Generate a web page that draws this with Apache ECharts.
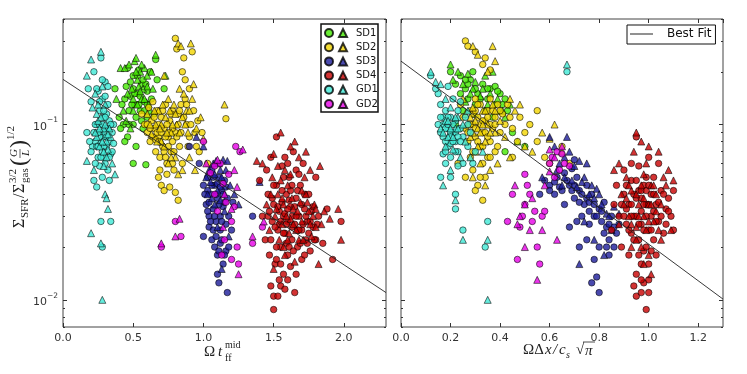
<!DOCTYPE html>
<html>
<head>
<meta charset="utf-8">
<script src="https://cdn.jsdelivr.net/npm/echarts@6/dist/echarts.min.js"></script>
<style>
  html, body { margin: 0; padding: 0; background: #fff; }
  #main { width: 747px; height: 374px; }
</style>
</head>
<body>
<div id="main"></div>
<script>
// ---- data: [x, y] ----
// left panel: x = Omega t_ff^mid
const leftSD1Circ = [[0.37,0.16],[0.4,0.11],[0.42,0.13],[0.43,0.1],[0.45,0.165],[0.46,0.085],[0.47,0.12],[0.48,0.145],[0.5,0.1],[0.5,0.19],[0.51,0.13],[0.52,0.075],[0.53,0.15],[0.55,0.12],[0.56,0.17],[0.57,0.095],[0.58,0.135],[0.6,0.11],[0.62,0.2],[0.63,0.14],[0.65,0.115],[0.66,0.235],[0.67,0.18],[0.72,0.16],[0.5,0.06],[0.59,0.059],[0.44,0.08],[0.41,0.095],[0.54,0.205],[0.46,0.21],[0.6,0.155],[0.48,0.175],
    [0.44,0.14],[0.47,0.1],[0.49,0.13],[0.51,0.15],[0.52,0.11],[0.54,0.13],[0.55,0.145],[0.56,0.105],[0.58,0.12],[0.59,0.17],[0.6,0.13],[0.53,0.19],[0.5,0.16],[0.57,0.18]];
const leftSD1Tri = [[0.38,0.14],[0.41,0.21],[0.43,0.12],[0.44,0.21],[0.47,0.22],[0.49,0.16],[0.51,0.23],[0.52,0.24],[0.53,0.18],[0.55,0.2],[0.56,0.14],[0.58,0.21],[0.6,0.19],[0.61,0.13],[0.63,0.2],[0.64,0.16],[0.66,0.25],[0.73,0.19],[0.45,0.105],[0.5,0.12],[0.57,0.16],[0.62,0.12],[0.54,0.165],[0.48,0.095],
    [0.46,0.15],[0.5,0.14],[0.53,0.13],[0.55,0.155],[0.58,0.14],[0.6,0.165],[0.52,0.2],[0.56,0.22]];
const leftSD2Circ = [[0.56,0.115],[0.58,0.1],[0.6,0.09],[0.61,0.125],[0.62,0.08],[0.63,0.105],[0.65,0.095],[0.66,0.07],[0.67,0.12],[0.68,0.085],[0.69,0.065],[0.7,0.11],[0.71,0.075],[0.72,0.095],[0.73,0.13],[0.74,0.06],[0.75,0.085],[0.76,0.105],[0.77,0.07],[0.78,0.12],[0.79,0.055],[0.8,0.09],[0.8,0.31],[0.81,0.27],[0.82,0.115],[0.83,0.075],[0.84,0.13],[0.85,0.2],[0.87,0.18],[0.88,0.1],[0.9,0.16],[0.9,0.085],[0.92,0.26],[0.93,0.12],[0.96,0.105],[0.97,0.07],[0.99,0.09],[0.7,0.045],[0.72,0.042],[0.76,0.044],[0.8,0.041],[0.68,0.05],[0.74,0.052],[0.85,0.06],[0.86,0.24],[0.87,0.14],[0.95,0.075],[1.03,0.06],[1.16,0.108],[0.64,0.135],[0.78,0.08],[0.82,0.037],
    [0.6,0.1],[0.62,0.095],[0.64,0.085],[0.65,0.11],[0.67,0.09],[0.68,0.1],[0.69,0.08],[0.7,0.09],[0.71,0.12],[0.72,0.07],[0.73,0.085],[0.74,0.1],[0.75,0.075],[0.76,0.09],[0.77,0.115],[0.78,0.095],[0.79,0.07],[0.81,0.085],[0.82,0.1],[0.83,0.12],[0.84,0.09],[0.86,0.11],[0.88,0.13],[0.89,0.075],[0.91,0.1],[0.94,0.09],[0.69,0.055],[0.73,0.065],[0.78,0.06],[0.66,0.082]];
const leftSD2Tri = [[0.6,0.115],[0.63,0.088],[0.66,0.1],[0.68,0.12],[0.7,0.08],[0.72,0.19],[0.73,0.11],[0.75,0.14],[0.77,0.09],[0.79,0.13],[0.8,0.065],[0.81,0.1],[0.82,0.29],[0.83,0.16],[0.84,0.28],[0.85,0.11],[0.86,0.15],[0.88,0.12],[0.89,0.09],[0.91,0.29],[0.92,0.14],[0.93,0.17],[0.95,0.095],[0.98,0.11],[1.0,0.083],[0.85,0.055],[0.9,0.065],[0.94,0.055],[1.15,0.13],[0.75,0.06],[0.82,0.052],[0.7,0.1],
    [0.62,0.1],[0.65,0.12],[0.67,0.08],[0.69,0.095],[0.71,0.13],[0.74,0.09],[0.76,0.12],[0.78,0.1],[0.8,0.115],[0.83,0.09],[0.87,0.1],[0.9,0.12],[0.72,0.075],[0.77,0.065]];
const leftSD3Circ = [[0.97,0.06],[1.0,0.045],[1.02,0.035],[1.03,0.05],[1.04,0.03],[1.05,0.04],[1.06,0.055],[1.07,0.033],[1.08,0.045],[1.09,0.028],[1.1,0.038],[1.11,0.05],[1.12,0.03],[1.13,0.042],[1.14,0.034],[1.15,0.048],[1.16,0.027],[1.17,0.038],[1.18,0.03],[1.06,0.022],[1.08,0.02],[1.1,0.018],[1.12,0.021],[1.14,0.016],[1.16,0.019],[1.1,0.014],[1.11,0.0125],[1.17,0.011],[1.0,0.023],[1.2,0.025],[1.21,0.036],[0.9,0.075],[1.35,0.03],[1.04,0.026],[1.12,0.025],[1.03,0.042],
    [1.01,0.04],[1.03,0.032],[1.05,0.028],[1.06,0.045],[1.07,0.05],[1.08,0.03],[1.09,0.04],[1.1,0.046],[1.11,0.035],[1.12,0.044],[1.13,0.028],[1.14,0.04],[1.15,0.036],[1.16,0.044],[1.04,0.036],[1.09,0.023],[1.11,0.019],[1.13,0.022],[1.15,0.018],[1.07,0.025],[1.18,0.02]];
const leftSD3Tri = [[0.95,0.085],[1.0,0.075],[1.03,0.04],[1.05,0.047],[1.07,0.06],[1.09,0.062],[1.1,0.042],[1.12,0.055],[1.14,0.063],[1.15,0.032],[1.17,0.062],[1.19,0.045],[1.22,0.04],[1.25,0.035],[1.13,0.015],[1.18,0.023],[1.08,0.035],[1.4,0.047],[1.06,0.038],
    [1.02,0.05],[1.04,0.055],[1.08,0.052],[1.11,0.06],[1.13,0.05],[1.16,0.055],[1.12,0.037],[1.1,0.026]];
const leftSD4Circ = [[1.4,0.048],[1.42,0.03],[1.44,0.022],[1.46,0.04],[1.47,0.018],[1.48,0.065],[1.49,0.028],[1.5,0.035],[1.5,0.0105],[1.5,0.0088],[1.51,0.016],[1.52,0.045],[1.52,0.085],[1.53,0.025],[1.54,0.032],[1.55,0.02],[1.55,0.012],[1.56,0.058],[1.57,0.03],[1.57,0.014],[1.58,0.024],[1.59,0.04],[1.6,0.018],[1.6,0.028],[1.61,0.05],[1.62,0.034],[1.62,0.0155],[1.63,0.022],[1.64,0.07],[1.65,0.027],[1.65,0.011],[1.66,0.038],[1.67,0.02],[1.68,0.03],[1.69,0.045],[1.7,0.025],[1.7,0.017],[1.71,0.06],[1.72,0.033],[1.73,0.022],[1.74,0.028],[1.75,0.04],[1.76,0.019],[1.77,0.032],[1.78,0.026],[1.8,0.05],[1.8,0.022],[1.82,0.03],[1.85,0.021],[1.88,0.033],[1.92,0.017],[1.98,0.028],[1.48,0.012],[1.53,0.0105],[1.58,0.0115],[1.56,0.042],[1.63,0.045],[1.66,0.055],[1.58,0.065],[1.45,0.055],[1.72,0.018],[1.61,0.037],[1.67,0.025],[1.54,0.027],[1.59,0.021],[1.75,0.024],[1.63,0.03],
    [1.46,0.03],[1.48,0.022],[1.49,0.038],[1.51,0.026],[1.52,0.02],[1.53,0.034],[1.55,0.028],[1.56,0.036],[1.57,0.024],[1.58,0.031],[1.59,0.027],[1.6,0.033],[1.61,0.02],[1.62,0.042],[1.63,0.026],[1.64,0.019],[1.65,0.034],[1.66,0.03],[1.67,0.042],[1.68,0.025],[1.69,0.021],[1.7,0.035],[1.71,0.027],[1.72,0.04],[1.73,0.03],[1.74,0.021],[1.76,0.028],[1.78,0.034],[1.79,0.022],[1.81,0.027],[1.52,0.017],[1.55,0.016],[1.6,0.013],[1.54,0.013],[1.66,0.014],[1.57,0.05],[1.6,0.06],[1.68,0.052],[1.47,0.032],[1.5,0.045]];
const leftSD4Tri = [[1.38,0.062],[1.42,0.06],[1.45,0.035],[1.47,0.025],[1.49,0.05],[1.5,0.068],[1.51,0.03],[1.53,0.04],[1.55,0.09],[1.56,0.027],[1.57,0.035],[1.58,0.055],[1.6,0.045],[1.61,0.024],[1.62,0.075],[1.64,0.033],[1.65,0.08],[1.66,0.025],[1.68,0.065],[1.69,0.036],[1.7,0.028],[1.72,0.05],[1.73,0.04],[1.75,0.032],[1.76,0.055],[1.77,0.023],[1.79,0.035],[1.8,0.033],[1.83,0.058],[1.84,0.027],[1.86,0.032],[1.9,0.029],[1.96,0.033],[1.98,0.022],[1.82,0.016],[1.5,0.015],[1.57,0.02],[1.65,0.0165],[1.55,0.048],[1.73,0.07],[1.68,0.022],[1.62,0.029],
    [1.48,0.04],[1.52,0.033],[1.54,0.022],[1.56,0.038],[1.59,0.03],[1.6,0.022],[1.63,0.038],[1.64,0.027],[1.67,0.032],[1.7,0.042],[1.71,0.022],[1.74,0.036],[1.76,0.027],[1.78,0.03],[1.8,0.026],[1.58,0.018],[1.62,0.052],[1.53,0.058]];
const leftGD1Circ = [[0.17,0.09],[0.18,0.16],[0.2,0.135],[0.21,0.075],[0.22,0.2],[0.23,0.08],[0.24,0.1],[0.25,0.155],[0.25,0.065],[0.26,0.12],[0.27,0.09],[0.27,0.24],[0.28,0.07],[0.28,0.14],[0.29,0.085],[0.29,0.11],[0.3,0.06],[0.3,0.175],[0.31,0.095],[0.31,0.075],[0.32,0.13],[0.32,0.055],[0.33,0.08],[0.33,0.105],[0.34,0.068],[0.35,0.09],[0.36,0.078],[0.36,0.1],[0.26,0.058],[0.22,0.048],[0.24,0.044],[0.33,0.048],[0.27,0.028],[0.28,0.02],[0.34,0.028],[0.19,0.08],[0.3,0.145],[0.28,0.05],[0.23,0.06],[0.35,0.07],[0.2,0.07],[0.32,0.165],[0.26,0.085],[0.29,0.065],[0.31,0.115],
    [0.22,0.09],[0.23,0.1],[0.24,0.075],[0.25,0.09],[0.26,0.1],[0.27,0.078],[0.28,0.1],[0.29,0.075],[0.3,0.09],[0.3,0.11],[0.31,0.085],[0.32,0.095],[0.33,0.065],[0.34,0.1],[0.27,0.065],[0.25,0.075],[0.29,0.12],[0.26,0.135],[0.24,0.16],[0.28,0.18]];
const leftGD1Tri = [[0.17,0.19],[0.2,0.235],[0.21,0.125],[0.23,0.15],[0.24,0.085],[0.25,0.105],[0.27,0.26],[0.28,0.165],[0.29,0.095],[0.3,0.13],[0.31,0.08],[0.32,0.072],[0.33,0.095],[0.35,0.06],[0.37,0.052],[0.17,0.062],[0.22,0.055],[0.3,0.04],[0.31,0.038],[0.32,0.033],[0.2,0.024],[0.27,0.021],[0.28,0.01],[0.26,0.075],[0.34,0.085],[0.29,0.058],[0.24,0.115],
    [0.23,0.09],[0.26,0.095],[0.28,0.08],[0.3,0.1],[0.32,0.088],[0.29,0.07],[0.27,0.11],[0.31,0.065],[0.25,0.13]];
const leftGD2Circ = [[0.7,0.02],[0.8,0.028],[0.84,0.023],[1.05,0.053],[1.08,0.058],[1.1,0.032],[1.12,0.06],[1.14,0.046],[1.16,0.036],[1.18,0.052],[1.2,0.028],[1.22,0.034],[1.23,0.075],[1.26,0.07],[1.13,0.018],[1.15,0.022],[1.2,0.017],[1.25,0.016],[1.35,0.021],[1.42,0.026],[1.08,0.04],[1.0,0.08],[1.24,0.02]];
const leftGD2Tri = [[0.7,0.021],[0.8,0.023],[0.83,0.029],[1.02,0.06],[1.1,0.063],[1.15,0.04],[1.2,0.033],[1.22,0.055],[1.24,0.044],[1.25,0.014],[1.28,0.072],[1.14,0.026],[1.35,0.023],[1.43,0.028]];

// right panel: x = Omega dx / c_s sqrt(pi)
const rightSD1Circ = [[0.2,0.2],[0.22,0.17],[0.24,0.19],[0.26,0.16],[0.27,0.14],[0.28,0.18],[0.3,0.13],[0.31,0.15],[0.33,0.17],[0.34,0.12],[0.35,0.14],[0.36,0.16],[0.38,0.165],[0.4,0.15],[0.41,0.13],[0.43,0.12],[0.45,0.09],[0.25,0.12],[0.22,0.1],[0.5,0.075],[0.42,0.07],[0.29,0.2],[0.37,0.11],
    [0.24,0.15],[0.27,0.17],[0.3,0.16],[0.32,0.14],[0.35,0.16],[0.38,0.13],[0.42,0.14],[0.39,0.155],[0.26,0.18]];
const rightSD1Tri = [[0.2,0.22],[0.21,0.18],[0.23,0.2],[0.25,0.17],[0.27,0.195],[0.29,0.16],[0.3,0.175],[0.32,0.145],[0.34,0.19],[0.35,0.13],[0.37,0.2],[0.39,0.14],[0.4,0.12],[0.42,0.11],[0.44,0.13],[0.47,0.08],[0.26,0.135],[0.3,0.115],
    [0.28,0.15],[0.33,0.16],[0.36,0.15],[0.41,0.12]];
const rightSD2Circ = [[0.26,0.3],[0.27,0.28],[0.3,0.26],[0.33,0.22],[0.34,0.24],[0.36,0.205],[0.24,0.13],[0.25,0.11],[0.26,0.095],[0.27,0.08],[0.28,0.12],[0.28,0.065],[0.29,0.1],[0.29,0.055],[0.3,0.14],[0.3,0.085],[0.31,0.045],[0.31,0.11],[0.32,0.075],[0.32,0.13],[0.33,0.09],[0.33,0.06],[0.34,0.105],[0.34,0.05],[0.35,0.12],[0.36,0.08],[0.36,0.14],[0.37,0.095],[0.38,0.11],[0.38,0.07],[0.39,0.13],[0.4,0.09],[0.41,0.115],[0.42,0.1],[0.44,0.11],[0.45,0.095],[0.47,0.08],[0.48,0.11],[0.5,0.09],[0.55,0.12],[0.55,0.08],[0.58,0.065],[0.6,0.06],[0.33,0.037],[0.3,0.042],[0.26,0.05],[0.23,0.06],[0.45,0.065],[0.43,0.13],[0.52,0.1],[0.39,0.075],[0.35,0.065],[0.65,0.075],[0.68,0.06],
    [0.28,0.1],[0.29,0.115],[0.3,0.095],[0.3,0.12],[0.31,0.08],[0.31,0.13],[0.32,0.1],[0.33,0.105],[0.33,0.075],[0.34,0.09],[0.35,0.11],[0.35,0.085],[0.36,0.1],[0.37,0.12],[0.38,0.1],[0.27,0.09],[0.29,0.07],[0.32,0.05],[0.36,0.065],[0.4,0.12]];
const rightSD2Tri = [[0.29,0.28],[0.31,0.25],[0.37,0.28],[0.38,0.23],[0.35,0.2],[0.25,0.14],[0.26,0.115],[0.27,0.1],[0.28,0.085],[0.29,0.125],[0.3,0.07],[0.31,0.095],[0.32,0.06],[0.33,0.12],[0.34,0.08],[0.35,0.1],[0.36,0.055],[0.37,0.13],[0.38,0.09],[0.39,0.06],[0.4,0.105],[0.42,0.085],[0.44,0.14],[0.46,0.12],[0.48,0.13],[0.5,0.075],[0.53,0.07],[0.57,0.09],[0.6,0.083],[0.65,0.07],[0.34,0.045],[0.44,0.065],[0.62,0.1],[0.29,0.05],
    [0.28,0.11],[0.3,0.105],[0.32,0.09],[0.33,0.1],[0.34,0.12],[0.36,0.09],[0.29,0.09],[0.31,0.075],[0.38,0.12]];
const rightSD3Circ = [[0.58,0.048],[0.6,0.045],[0.62,0.04],[0.63,0.05],[0.65,0.042],[0.66,0.053],[0.68,0.045],[0.7,0.038],[0.71,0.05],[0.72,0.042],[0.74,0.035],[0.75,0.045],[0.76,0.032],[0.77,0.04],[0.78,0.03],[0.8,0.033],[0.81,0.028],[0.82,0.036],[0.83,0.026],[0.84,0.022],[0.85,0.03],[0.86,0.02],[0.87,0.024],[0.68,0.026],[0.72,0.02],[0.75,0.022],[0.8,0.02],[0.78,0.017],[0.79,0.0135],[0.77,0.0125],[0.8,0.011],[0.73,0.03],[0.66,0.035],[0.88,0.027],[0.84,0.018],[0.69,0.056],[0.56,0.04],[0.7,0.063],
    [0.6,0.042],[0.62,0.047],[0.64,0.044],[0.67,0.048],[0.69,0.042],[0.7,0.045],[0.72,0.036],[0.73,0.04],[0.75,0.038],[0.76,0.036],[0.78,0.035],[0.79,0.03],[0.81,0.032],[0.82,0.024],[0.84,0.027],[0.86,0.026],[0.71,0.028],[0.76,0.027],[0.83,0.02]];
const rightSD3Tri = [[0.6,0.085],[0.62,0.075],[0.64,0.06],[0.66,0.065],[0.68,0.07],[0.7,0.058],[0.72,0.062],[0.74,0.05],[0.75,0.06],[0.77,0.045],[0.79,0.043],[0.8,0.04],[0.82,0.018],[0.83,0.031],[0.85,0.025],[0.86,0.034],[0.78,0.022],[0.74,0.028],[0.72,0.016],[0.65,0.045],[0.88,0.031],[0.57,0.05],[0.67,0.085],
    [0.63,0.055],[0.66,0.05],[0.69,0.048],[0.71,0.044],[0.73,0.047],[0.76,0.04],[0.78,0.038],[0.81,0.035],[0.84,0.03]];
const rightSD4Circ = [[0.85,0.025],[0.86,0.035],[0.87,0.045],[0.88,0.03],[0.89,0.02],[0.9,0.04],[0.9,0.055],[0.91,0.027],[0.92,0.035],[0.92,0.018],[0.93,0.048],[0.93,0.024],[0.94,0.03],[0.95,0.085],[0.95,0.038],[0.95,0.014],[0.95,0.0105],[0.96,0.022],[0.96,0.058],[0.97,0.032],[0.97,0.027],[0.98,0.045],[0.98,0.019],[0.98,0.0125],[0.99,0.035],[0.99,0.0088],[1.0,0.065],[1.0,0.025],[1.0,0.016],[1.01,0.04],[1.01,0.03],[1.02,0.022],[1.02,0.05],[1.03,0.035],[1.04,0.028],[1.04,0.06],[1.05,0.042],[1.06,0.024],[1.07,0.033],[1.08,0.038],[1.09,0.03],[1.1,0.042],[1.1,0.025],[0.94,0.012],[0.97,0.011],[1.0,0.011],[0.96,0.042],[0.99,0.05],[0.93,0.06],[0.91,0.033],[1.03,0.018],[0.97,0.038],[0.94,0.022],
    [0.9,0.03],[0.91,0.045],[0.92,0.025],[0.93,0.035],[0.94,0.04],[0.95,0.03],[0.95,0.048],[0.96,0.027],[0.97,0.042],[0.98,0.035],[0.98,0.025],[0.99,0.03],[0.99,0.042],[1.0,0.035],[1.0,0.045],[1.01,0.025],[1.02,0.032],[1.02,0.04],[1.03,0.028],[1.04,0.036],[1.05,0.03],[1.06,0.04],[1.07,0.027],[0.96,0.018],[0.97,0.016],[0.99,0.02],[1.01,0.019],[0.97,0.013],[1.0,0.013],[0.93,0.03],[0.89,0.035],[1.08,0.032]];
const rightSD4Tri = [[0.86,0.055],[0.88,0.06],[0.89,0.04],[0.9,0.035],[0.91,0.05],[0.92,0.03],[0.93,0.042],[0.94,0.07],[0.95,0.09],[0.95,0.026],[0.96,0.035],[0.97,0.08],[0.97,0.02],[0.98,0.03],[0.99,0.06],[1.0,0.075],[1.0,0.035],[1.01,0.045],[1.02,0.028],[1.03,0.04],[1.04,0.07],[1.05,0.035],[1.06,0.05],[1.07,0.045],[1.08,0.055],[1.09,0.025],[1.1,0.048],[1.05,0.022],[0.98,0.016],[0.93,0.02],[1.01,0.014],[0.88,0.027],
    [0.91,0.038],[0.93,0.027],[0.95,0.04],[0.96,0.03],[0.97,0.045],[0.98,0.038],[0.99,0.025],[1.0,0.028],[1.01,0.035],[1.02,0.045],[1.03,0.032],[1.04,0.025],[0.95,0.022],[0.98,0.052],[1.0,0.018],[0.92,0.045]];
const rightGD1Circ = [[0.12,0.19],[0.15,0.15],[0.16,0.13],[0.17,0.1],[0.17,0.085],[0.18,0.12],[0.19,0.095],[0.19,0.075],[0.2,0.11],[0.2,0.065],[0.21,0.09],[0.21,0.14],[0.22,0.08],[0.22,0.105],[0.23,0.07],[0.23,0.12],[0.24,0.095],[0.25,0.085],[0.25,0.06],[0.26,0.11],[0.27,0.075],[0.28,0.09],[0.16,0.05],[0.18,0.06],[0.2,0.05],[0.22,0.04],[0.25,0.025],[0.22,0.033],[0.34,0.02],[0.35,0.028],[0.67,0.2],[0.3,0.07],[0.14,0.16],[0.24,0.135],[0.19,0.165],[0.27,0.1],[0.2,0.078],[0.23,0.058],[0.17,0.068],[0.29,0.06],
    [0.16,0.09],[0.17,0.11],[0.18,0.08],[0.18,0.095],[0.19,0.1],[0.19,0.11],[0.2,0.09],[0.2,0.085],[0.21,0.08],[0.21,0.1],[0.22,0.09],[0.23,0.085],[0.24,0.08],[0.18,0.07],[0.22,0.07],[0.16,0.11],[0.15,0.1]];
const rightGD1Tri = [[0.12,0.2],[0.14,0.175],[0.16,0.17],[0.18,0.14],[0.18,0.105],[0.19,0.085],[0.2,0.125],[0.21,0.072],[0.22,0.095],[0.23,0.11],[0.24,0.065],[0.25,0.1],[0.26,0.08],[0.2,0.055],[0.22,0.037],[0.25,0.022],[0.35,0.022],[0.35,0.01],[0.67,0.22],[0.28,0.065],[0.17,0.045],[0.33,0.07],[0.16,0.095],[0.27,0.12],
    [0.17,0.09],[0.19,0.105],[0.2,0.095],[0.21,0.085],[0.22,0.11],[0.23,0.095],[0.18,0.075]];
const rightGD2Circ = [[0.47,0.017],[0.48,0.026],[0.49,0.03],[0.5,0.035],[0.51,0.045],[0.52,0.04],[0.53,0.028],[0.55,0.02],[0.56,0.016],[0.57,0.03],[0.58,0.032],[0.6,0.06],[0.61,0.065],[0.63,0.07],[0.65,0.068],[0.64,0.055],[0.68,0.058],[0.5,0.052],[0.45,0.04],[0.54,0.032],[0.62,0.05],[0.66,0.06],[0.43,0.028]];
const rightGD2Tri = [[0.47,0.027],[0.48,0.03],[0.5,0.035],[0.52,0.025],[0.53,0.038],[0.55,0.013],[0.57,0.025],[0.6,0.054],[0.6,0.072],[0.62,0.065],[0.65,0.075],[0.58,0.045],[0.63,0.022],[0.46,0.045],[0.5,0.02]];

// best-fit lines (end points)
const leftFit = [[0, 0.181], [2.3, 0.011]];
const rightFit = [[0, 0.23], [1.3, 0.0101]];

const groupNames = ['SD1', 'SD2', 'SD3', 'SD4', 'GD1', 'GD2'];
const groupColors = ['#44e800', '#f2d400', '#1c1c9a', '#c80000', '#3ee8d6', '#e600e6'];

const yMajorTicks = [0.01, 0.1];
const yMinorTicks = [0.007, 0.008, 0.009, 0.02, 0.03, 0.04, 0.05, 0.06, 0.07, 0.08, 0.09, 0.2, 0.3, 0.4];

const leftCirc = [leftSD1Circ, leftSD2Circ, leftSD3Circ, leftSD4Circ, leftGD1Circ, leftGD2Circ];
const leftTri = [leftSD1Tri, leftSD2Tri, leftSD3Tri, leftSD4Tri, leftGD1Tri, leftGD2Tri];
const rightCirc = [rightSD1Circ, rightSD2Circ, rightSD3Circ, rightSD4Circ, rightGD1Circ, rightGD2Circ];
const rightTri = [rightSD1Tri, rightSD2Tri, rightSD3Tri, rightSD4Tri, rightGD1Tri, rightGD2Tri];

const tickColor = '#333';
const sansFont = 'DejaVu Sans';
const serifFont = '"Liberation Serif", "DejaVu Serif", serif';

function scatterSeries(panel, circ, tri) {
    let out = [];
    groupNames.forEach(function (name, i) {
        let style = { color: groupColors[i], borderColor: '#000', borderWidth: 0.7 };
        out.push({
            type: 'scatter', name: name + ' ', xAxisIndex: panel * 2, yAxisIndex: panel * 4,
            symbol: 'circle', symbolSize: 6.5, data: circ[i], itemStyle: style
        });
        out.push({
            type: 'scatter', name: name, xAxisIndex: panel * 2, yAxisIndex: panel * 4,
            symbol: 'triangle', symbolSize: 7, data: tri[i], itemStyle: style
        });
    });
    return out;
}

function xAxes(grid, max, interval) {
    let base = {
        type: 'value', gridIndex: grid, min: 0, max: max, interval: interval,
        axisLine: { show: false }, splitLine: { show: false },
        axisTick: { inside: true, length: 4, lineStyle: { color: tickColor } }
    };
    return [
        Object.assign({}, base, {
            position: 'bottom',
            axisLabel: {
                showMaxLabel: false, margin: 6, fontSize: 11, fontFamily: sansFont, color: '#333',
                formatter: function (v) { return v.toFixed(1); }
            }
        }),
        Object.assign({}, base, { position: 'top', axisLabel: { show: false } })
    ];
}

function yAxes(grid, showLabels) {
    let base = {
        type: 'log', logBase: 10, gridIndex: grid, min: 0.007, max: 0.4,
        axisLine: { show: false }, splitLine: { show: false }, minorTick: { show: false }
    };
    let major = { inside: true, length: 4, customValues: yMajorTicks, lineStyle: { color: tickColor } };
    let minor = { inside: true, length: 2, customValues: yMinorTicks, lineStyle: { color: tickColor } };
    return [
        Object.assign({}, base, {
            position: 'left', axisTick: major,
            axisLabel: {
                show: showLabels, customValues: yMajorTicks, margin: 5,
                formatter: function (v) { return '{b|10}{s|' + (v < 0.05 ? '\u22122' : '\u22121') + '}'; },
                rich: {
                    b: { fontSize: 11, fontFamily: sansFont, color: '#333', lineHeight: 16, verticalAlign: 'bottom' },
                    s: { fontSize: 7.5, fontFamily: sansFont, color: '#333', lineHeight: 9, verticalAlign: 'top' }
                }
            }
        }),
        Object.assign({}, base, { position: 'left', axisTick: minor, axisLabel: { show: false } }),
        Object.assign({}, base, { position: 'right', axisTick: major, axisLabel: { show: false } }),
        Object.assign({}, base, { position: 'right', axisTick: minor, axisLabel: { show: false } })
    ];
}

function txt(text, x, y, size, italic) {
    return {
        type: 'text', x: x, y: y,
        style: {
            text: text, fill: '#222', verticalAlign: 'middle',
            font: (italic ? 'italic ' : '') + size + 'px ' + serifFont
        }
    };
}

document.addEventListener('DOMContentLoaded', function () {

    let myChart = echarts.init(document.getElementById('main'));

    let series = scatterSeries(0, leftCirc, leftTri).concat(scatterSeries(1, rightCirc, rightTri));
    let fitStyle = { color: '#222', width: 0.9 };
    series.push({
        type: 'line', name: 'Best Fit', xAxisIndex: 0, yAxisIndex: 0, data: leftFit,
        symbol: 'none', z: 5, lineStyle: fitStyle, itemStyle: { color: '#222' }
    });
    series.push({
        type: 'line', name: 'Best Fit', xAxisIndex: 2, yAxisIndex: 4, data: rightFit,
        symbol: 'none', z: 5, lineStyle: fitStyle, itemStyle: { color: '#222' }
    });

    let option = {
        animation: false,
        backgroundColor: '#fff',
        grid: [
            { left: 63, top: 19, width: 323, height: 308, show: true, borderColor: '#444', borderWidth: 1 },
            { left: 401, top: 19, width: 322, height: 308, show: true, borderColor: '#444', borderWidth: 1 }
        ],
        xAxis: xAxes(0, 2.3, 0.5).concat(xAxes(1, 1.3, 0.2)),
        yAxis: yAxes(0, true).concat(yAxes(1, false)),
        legend: [
            {
                data: groupNames.map(function (n) { return n + ' '; }),
                left: 324, top: 28, orient: 'vertical', padding: 0, z: 10,
                itemWidth: 8, itemHeight: 8, itemGap: 4.2, selectedMode: false,
                formatter: function () { return ''; },
                textStyle: { lineHeight: 8, fontSize: 8 }
            },
            {
                data: groupNames,
                left: 338, top: 28, orient: 'vertical', padding: 0, z: 10,
                itemWidth: 8, itemHeight: 8, itemGap: 4.2, selectedMode: false,
                textStyle: { fontSize: 10, lineHeight: 8, fontFamily: sansFont, color: '#111', padding: [0, 0, 0, 4] }
            },
            {
                data: [{ name: 'Best Fit', icon: 'rect' }],
                left: 627, top: 25, padding: [2, 4, 3, 3], z: 10, selectedMode: false,
                itemWidth: 23, itemHeight: 1, backgroundColor: '#fff',
                itemStyle: { color: '#222', borderWidth: 0 },
                borderColor: '#111', borderWidth: 1, borderRadius: 0,
                textStyle: { fontSize: 12, lineHeight: 14, fontFamily: sansFont, color: '#111', padding: [0, 0, 0, 9] }
            }
        ],
        graphic: [
            {
                type: 'rect', z: 8, shape: { x: 321, y: 24, width: 57, height: 88 },
                style: { fill: '#fff', stroke: '#111', lineWidth: 1.5 }
            },
            // x title, left: Omega t_ff^mid
            txt('\u03A9', 204, 352, 15, false),
            txt('t', 218, 352, 15, true),
            txt('mid', 225, 345, 10, false),
            txt('ff', 225, 358, 10, false),
            // x title, right: Omega Delta x / c_s sqrt(pi)
            txt('\u03A9\u0394', 523, 350, 15, false),
            txt('x', 545, 350, 15, true),
            txt('/', 553, 350, 15, true),
            txt('c', 559, 350, 15, true),
            txt('s', 566, 355, 10, true),
            txt('\u221A', 576, 350, 15, false),
            txt('\u03C0', 585, 351, 15, true),
            { type: 'line', shape: { x1: 583, y1: 342, x2: 595, y2: 342 }, style: { stroke: '#222', lineWidth: 0.8 } },
            // y title: Sigma_SFR / Sigma_gas^{3/2} (G/L)^{1/2}, reading upward
            {
                type: 'group', x: 20, y: 228, rotation: Math.PI / 2,
                children: [
                    txt('\u03A3', 0, 0, 16, false),
                    txt('SFR', 10, 5, 11, false),
                    txt('/', 30, 0, 16, false),
                    txt('\u03A3', 35, 0, 16, false),
                    txt('3/2', 45, -7, 11, false),
                    txt('gas', 45, 5, 11, false),
                    txt('(', 62, 0, 24, false),
                    txt('G', 71, -6, 11, true),
                    { type: 'line', shape: { x1: 70, y1: 0, x2: 79, y2: 0 }, style: { stroke: '#222', lineWidth: 0.7 } },
                    txt('L', 72, 6, 11, true),
                    txt(')', 80, 0, 24, false),
                    txt('1/2', 88, -9, 11, false)
                ]
            }
        ],
        series: series
    };

    myChart.setOption(option);
});
</script>
</body>
</html>
